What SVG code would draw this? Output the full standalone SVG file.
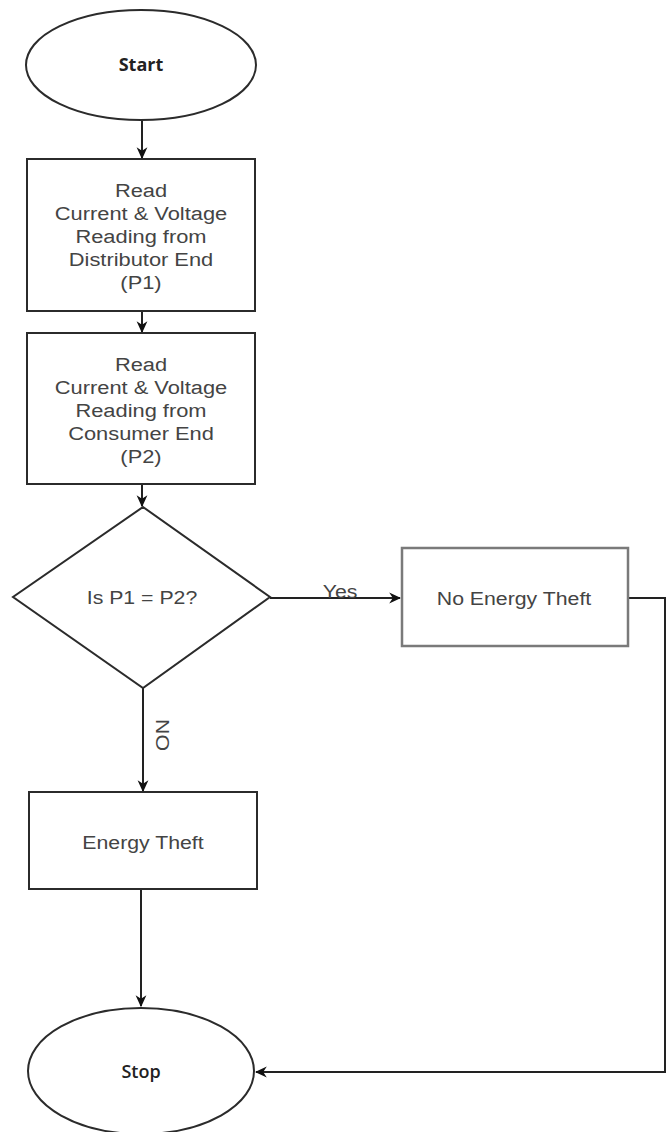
<svg xmlns="http://www.w3.org/2000/svg" width="670" height="1132" viewBox="0 0 670 1132">
<style>
.shape{fill:#fff;stroke:#2b2b2b;stroke-width:2}
.grey{stroke:#7a7a7a;stroke-width:2.5}
.lbl{font-family:"Liberation Sans",Arial,sans-serif;font-size:19px;fill:#444;text-anchor:middle}
.term{font-family:"Open Sans","Liberation Sans",sans-serif;font-size:18px;fill:#222;text-anchor:middle}
.conn{fill:none;stroke:#222;stroke-width:2}
</style>
<defs>
<marker id="ah" viewBox="0 0 10 10" refX="9" refY="5" markerWidth="12" markerHeight="12" markerUnits="userSpaceOnUse" orient="auto">
<path d="M0,0.5 L10,5 L0,9.5 L3,5 z" fill="#111"/>
</marker>
</defs>
<rect width="670" height="1132" fill="#fff"/>
<g id="connectors">
<line class="conn" x1="142" y1="120" x2="142" y2="158" marker-end="url(#ah)"/>
<line class="conn" x1="142" y1="311" x2="142" y2="332" marker-end="url(#ah)"/>
<line class="conn" x1="142" y1="484" x2="142" y2="506" marker-end="url(#ah)"/>
<line class="conn" x1="270" y1="598" x2="400" y2="598" marker-end="url(#ah)"/>
<line class="conn" x1="143" y1="688" x2="143" y2="791" marker-end="url(#ah)"/>
<line class="conn" x1="141" y1="889" x2="141" y2="1006" marker-end="url(#ah)"/>
<polyline class="conn" points="628,598 665,598 665,1072 256,1072" marker-end="url(#ah)"/>
<text class="lbl" x="0" y="0" transform="translate(340,598) scale(1.12,1)">Yes</text>
<text class="lbl" x="0" y="0" transform="translate(156,735) rotate(90) scale(1.12,1)">NO</text>
</g>
<g id="start">
<ellipse class="shape" cx="141" cy="65" rx="115" ry="55"/>
<text class="term" font-weight="bold" transform="translate(141,71)">Start</text>
</g>
<g id="read-p1">
<rect class="shape" x="27" y="159" width="228" height="152"/>
<g transform="translate(141,0) scale(1.15,1)">
<text class="lbl" x="0" y="197">Read</text>
<text class="lbl" x="0" y="220">Current &amp; Voltage</text>
<text class="lbl" x="0" y="243">Reading from</text>
<text class="lbl" x="0" y="266">Distributor End</text>
<text class="lbl" x="0" y="289">(P1)</text>
</g>
</g>
<g id="read-p2">
<rect class="shape" x="27" y="333" width="228" height="151"/>
<g transform="translate(141,0) scale(1.15,1)">
<text class="lbl" x="0" y="371">Read</text>
<text class="lbl" x="0" y="394">Current &amp; Voltage</text>
<text class="lbl" x="0" y="417">Reading from</text>
<text class="lbl" x="0" y="440">Consumer End</text>
<text class="lbl" x="0" y="463">(P2)</text>
</g>
</g>
<g id="decision">
<polygon class="shape" points="143,507 270,597 143,688 13,597" stroke-width="1.5"/>
<text class="lbl" transform="translate(142,604) scale(1.12,1)">Is P1 = P2?</text>
</g>
<g id="no-theft">
<rect class="shape grey" x="402" y="548" width="226" height="98"/>
<text class="lbl" transform="translate(514,605) scale(1.12,1)">No Energy Theft</text>
</g>
<g id="theft">
<rect class="shape" x="29" y="792" width="228" height="97"/>
<text class="lbl" transform="translate(143,849) scale(1.12,1)">Energy Theft</text>
</g>
<g id="stop">
<ellipse class="shape" cx="141" cy="1071" rx="113" ry="63" stroke-width="1.5"/>
<text class="term" font-weight="600" transform="translate(141,1078)">Stop</text>
</g>
</svg>
